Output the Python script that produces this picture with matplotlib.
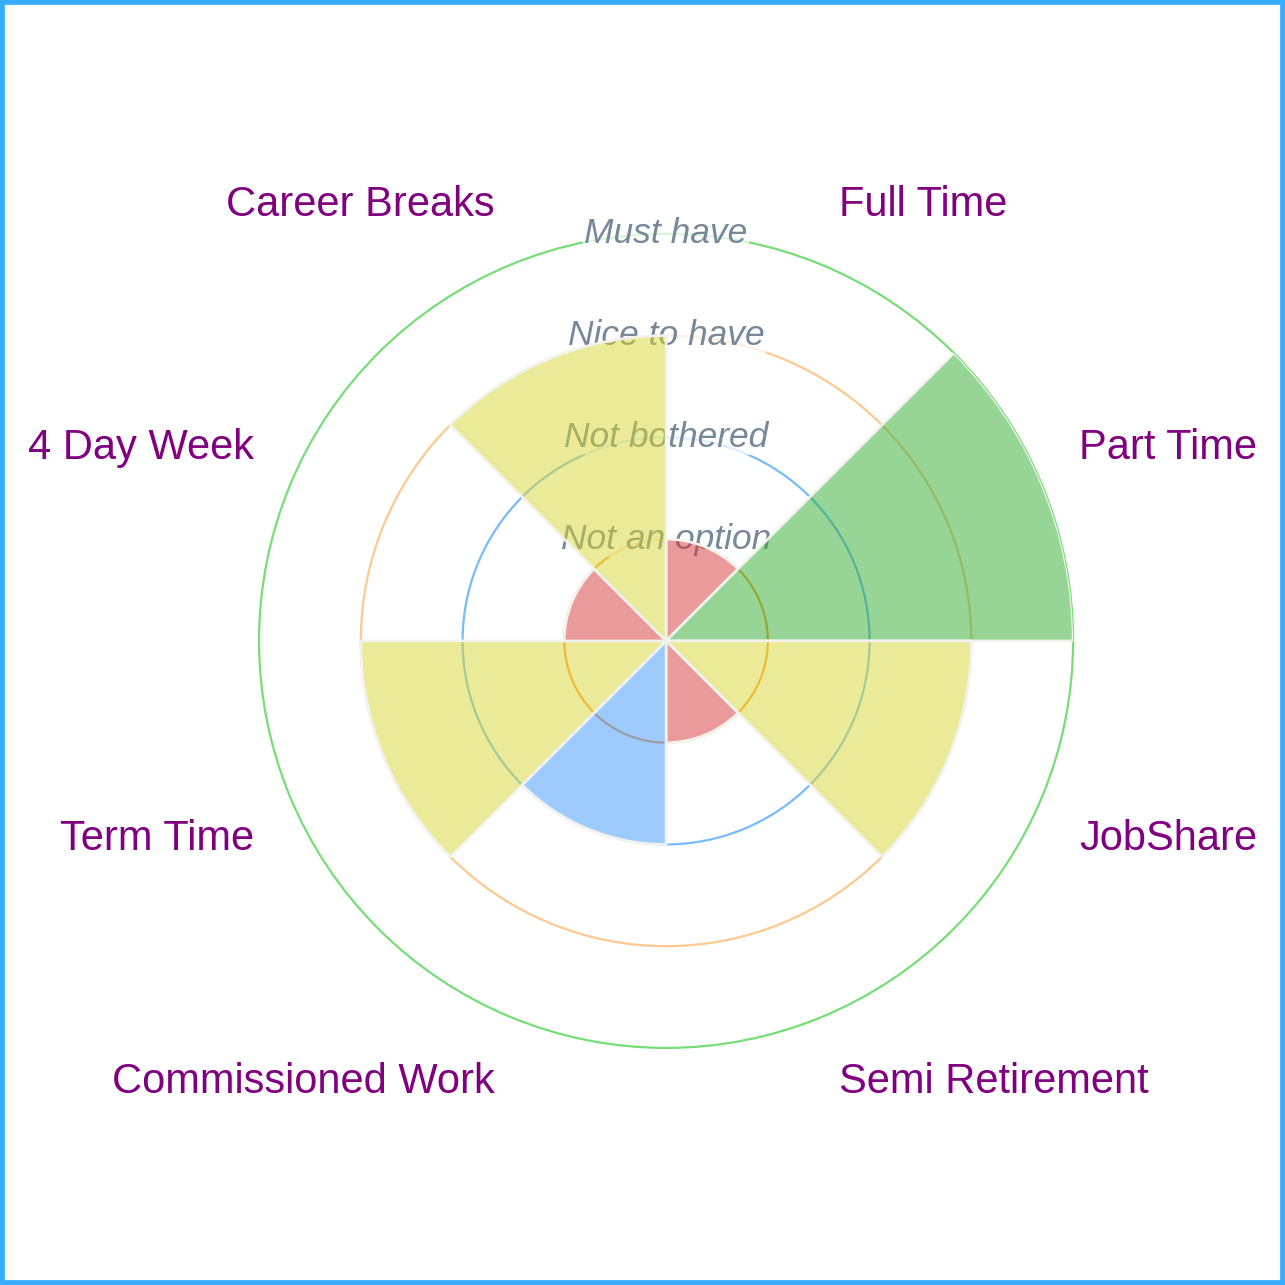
import numpy as np
import matplotlib
matplotlib.use('Agg')
import matplotlib.pyplot as plt
from matplotlib.colors import to_rgba
from matplotlib.patches import Rectangle

plt.rcParams['font.family'] = ['Liberation Sans', 'DejaVu Sans']

# data
labels = ['Full Time', 'Part Time', 'JobShare', 'Semi Retirement',
          'Commissioned Work', 'Term Time', '4 Day Week', 'Career Breaks']
values = [1, 4, 3, 1, 2, 3, 1, 3]
levels = ['Not an option', 'Not bothered', 'Nice to have', 'Must have']

# colour per value (1..4)
fill_cols = {1: '#d73737', 2: '#3d99ff', 3: '#d7d733', 4: '#31ad31'}
ring_cols = ['#ff9f40', '#77bbff', '#ffc890', '#77dd77']

fig = plt.figure(figsize=(12.85, 12.85), dpi=100)
ax = fig.add_axes([0.2016, 0.1845, 0.6335, 0.6335], projection='polar')
ax.set_theta_zero_location('N')
ax.set_theta_direction(-1)

n = len(values)
w = 2 * np.pi / n
theta = np.arange(n) * w
ax.bar(theta, values, width=w, align='edge',
       color=[to_rgba(fill_cols[v], 0.5) for v in values],
       edgecolor='#f3f3ee', linewidth=1.9, zorder=5)

ax.set_ylim(0, 4)
ax.set_rticks([1, 2, 3, 4])
ax.set_yticklabels([])
ax.set_xticks([])
ax.spines['polar'].set_visible(False)
ax.grid(True, axis='y')
for ln, c in zip(ax.yaxis.get_gridlines(), ring_cols):
    ln.set_color(c)
    ln.set_linewidth(1.6)
    ln.set_linestyle('-')
    ln.set_clip_on(False)
    ln.set_zorder(1)

# level labels on the rings
for i, t in enumerate(levels):
    ax.text(0, i + 1, t, ha='center', va='center', fontsize=25.5,
            style='italic', color='#778899', zorder=2,
            bbox=dict(facecolor='white', alpha=0.75, edgecolor='none', pad=1))

# category labels
for i, lab in enumerate(labels):
    a = theta[i] + w / 2
    ha = 'left' if np.sin(a) > 0 else 'right'
    va = 'bottom' if np.cos(a) > 0 else 'top'
    if np.sin(a) > 0:
        dx = -1 if abs(np.sin(a)) > 0.9 else 0.5
    else:
        dx = 2 if abs(np.sin(a)) > 0.9 else 0
    dy = 1 if np.cos(a) > 0 else -4.5
    ax.annotate(lab, xy=(a, 4.41), xytext=(dx, dy), textcoords='offset points',
                ha=ha, va=va, fontsize=30, color='#800080',
                annotation_clip=False)

fig.patches.append(Rectangle((0, 0), 1, 1, transform=fig.transFigure,
                             fill=False, edgecolor='#36adff', linewidth=7))

fig.savefig('out.png', dpi=100, facecolor='white')
